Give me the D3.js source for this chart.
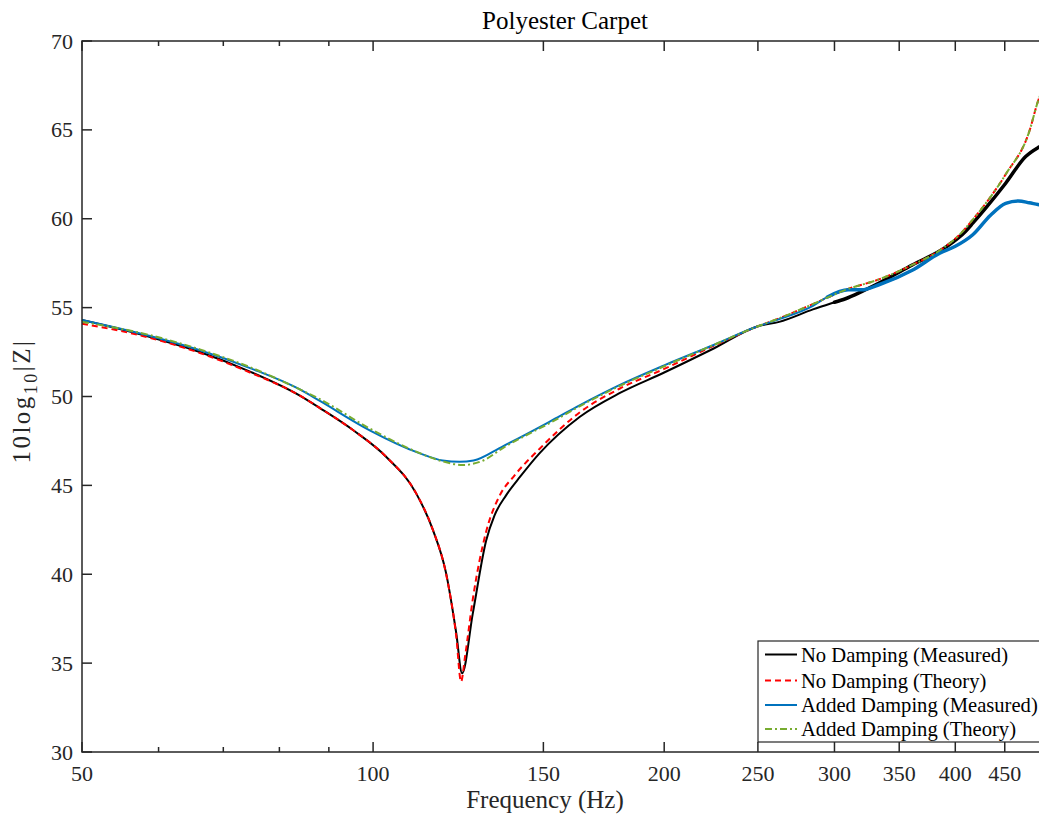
<!DOCTYPE html>
<html><head><meta charset="utf-8">
<script src="https://cdn.jsdelivr.net/npm/d3@7"></script>
<style>
html,body{margin:0;padding:0;background:#fff;overflow:hidden;}
text{font-family:"Liberation Serif","Times New Roman",serif;fill:#262626;}
</style></head>
<body>
<svg id="chart" width="1039" height="819"></svg>
<script>
// ---- data ----
const chartTitle = "Polyester Carpet";
const xLabel = "Frequency (Hz)";
const xTickValues = [50, 100, 150, 200, 250, 300, 350, 400, 450];
const xMinorTicks = [60, 70, 80, 90];
const yTickValues = [30, 35, 40, 45, 50, 55, 60, 65, 70];
const legendLabels = ["No Damping (Measured)", "No Damping (Theory)", "Added Damping (Measured)", "Added Damping (Theory)"];

const freqNoDampMeas = [50, 58.8, 66.2, 74.6, 84.0, 88.1, 95.4, 103.2, 110.8, 115.3, 119.0, 121.9, 123.6, 126.8, 130.9, 133.5, 137.3, 142, 148.6, 163.5, 180, 200, 225, 250, 263, 285, 300, 308, 320, 334, 361, 391, 410, 417, 430, 451, 473, 487, 500];
const valNoDampMeas  = [54.3, 53.35, 52.5, 51.4, 50.05, 49.35, 48.1, 46.6, 44.55, 42.5, 40.05, 36.68, 34.43, 37.8, 41.9, 43.3, 44.45, 45.5, 46.8, 48.85, 50.2, 51.35, 52.7, 53.95, 54.2, 54.9, 55.3, 55.5, 55.9, 56.4, 57.4, 58.4, 59.3, 59.75, 60.6, 62.0, 63.5, 64.0, 64.3];

const freqNoDampTheory = [50, 58.8, 66.2, 74.6, 84.0, 88.1, 95.4, 103.2, 110.8, 115.3, 119.0, 121.9, 123.3, 124.5, 126.8, 130.9, 135.1, 140, 148.6, 163.5, 180, 200, 225, 250, 263, 285, 308, 334, 361, 385, 404, 417, 451, 477, 487, 500];
const valNoDampTheory  = [54.1, 53.3, 52.45, 51.35, 50.05, 49.35, 48.1, 46.6, 44.55, 42.5, 40.0, 36.5, 33.96, 35.4, 38.6, 42.4, 44.4, 45.55, 47.05, 49.1, 50.45, 51.55, 52.85, 53.95, 54.4, 55.2, 56.0, 56.6, 57.4, 58.2, 59.1, 59.95, 62.5, 64.9, 66.6, 68.0];

const freqAddDampMeas = [50, 58.8, 66.2, 74.6, 84.0, 88.1, 99.2, 111.8, 118, 122.9, 127, 136.2, 153.4, 163.5, 180, 200, 225, 250, 263, 285, 295, 310, 320, 334, 361, 385, 400, 417, 435, 451, 465, 477, 487, 500];
const valAddDampMeas  = [54.3, 53.4, 52.6, 51.6, 50.4, 49.75, 48.1, 46.8, 46.4, 46.33, 46.4, 47.2, 48.68, 49.5, 50.65, 51.75, 52.9, 53.95, 54.35, 55.1, 55.6, 56.0, 56.0, 56.3, 57.1, 58.05, 58.45, 59.1, 60.2, 60.87, 61.0, 60.9, 60.8, 60.7];

const freqAddDampTheory = [50, 58.8, 66.2, 74.6, 84.0, 88.1, 99.2, 110.8, 118, 123.8, 130, 136.2, 153.4, 163.5, 180, 200, 225, 250, 263, 285, 308, 334, 361, 385, 404, 417, 451, 477, 487, 500];
const valAddDampTheory  = [54.2, 53.45, 52.65, 51.65, 50.4, 49.85, 48.2, 46.9, 46.35, 46.15, 46.4, 47.1, 48.6, 49.45, 50.6, 51.7, 52.9, 53.95, 54.4, 55.2, 56.0, 56.6, 57.4, 58.2, 59.1, 59.95, 62.5, 64.9, 66.6, 68.0];

// ---- layout ----
const svg = d3.select("#chart");
const L = 82, R = 1049, T = 41, B = 752;
const x = d3.scaleLog().domain([50, 500]).range([L, R]);
const y = d3.scaleLinear().domain([30, 70]).range([B, T]);
const axisColor = "#262626";

// series
const series = [
  {f: freqNoDampMeas, v: valNoDampMeas, color: "#000000", dash: null, w: 2, noisy: true},
  {f: freqNoDampTheory, v: valNoDampTheory, color: "#ff0000", dash: "6,4", w: 2, noisy: false},
  {f: freqAddDampMeas, v: valAddDampMeas, color: "#0072BD", dash: null, w: 2, noisy: true},
  {f: freqAddDampTheory, v: valAddDampTheory, color: "#77AC30", dash: "7,3,2,3", w: 2, noisy: false}
];

const line = d3.line().x(d => x(d[0])).y(d => y(d[1])).curve(d3.curveMonotoneX);

const plot = svg.append("g");
series.forEach(s => {
  const pts = s.f.map((f, i) => [f, s.v[i]]);
  if (s.noisy) {
    plot.append("path").attr("d", line(pts.filter(p => p[0] >= 295)))
      .attr("fill", "none").attr("stroke", s.color).attr("stroke-width", 3.5)
      .attr("stroke-linejoin", "round").attr("stroke-linecap", "round");
  }
  plot.append("path").attr("d", line(pts))
    .attr("fill", "none").attr("stroke", s.color).attr("stroke-width", s.w)
    .attr("stroke-dasharray", s.dash).attr("stroke-linejoin", "round");
});

// axes box
const ax = svg.append("g");
ax.append("rect").attr("x", L).attr("y", T).attr("width", R - L).attr("height", B - T)
  .attr("fill", "none").attr("stroke", axisColor).attr("stroke-width", 1.5);

// x ticks (inward, bottom & top)
xTickValues.forEach(v => {
  ax.append("line").attr("x1", x(v)).attr("x2", x(v)).attr("y1", B).attr("y2", B - 10).attr("stroke", axisColor).attr("stroke-width", 1.5);
  ax.append("line").attr("x1", x(v)).attr("x2", x(v)).attr("y1", T).attr("y2", T + 10).attr("stroke", axisColor).attr("stroke-width", 1.5);
  ax.append("text").attr("x", x(v)).attr("y", 781).attr("text-anchor", "middle")
    .attr("font-size", 22).text(v);
});
xMinorTicks.forEach(v => {
  ax.append("line").attr("x1", x(v)).attr("x2", x(v)).attr("y1", B).attr("y2", B - 5).attr("stroke", axisColor).attr("stroke-width", 1.5);
  ax.append("line").attr("x1", x(v)).attr("x2", x(v)).attr("y1", T).attr("y2", T + 5).attr("stroke", axisColor).attr("stroke-width", 1.5);
});
// y ticks
yTickValues.forEach(v => {
  ax.append("line").attr("x1", L).attr("x2", L + 10).attr("y1", y(v)).attr("y2", y(v)).attr("stroke", axisColor).attr("stroke-width", 1.5);
  ax.append("line").attr("x1", R).attr("x2", R - 10).attr("y1", y(v)).attr("y2", y(v)).attr("stroke", axisColor).attr("stroke-width", 1.5);
  ax.append("text").attr("x", 73).attr("y", y(v) + 7.5).attr("text-anchor", "end")
    .attr("font-size", 22).text(v);
});

// title & labels
svg.append("text").attr("x", 565).attr("y", 29).attr("text-anchor", "middle")
  .attr("font-size", 25).style("fill", "#000").text(chartTitle);
svg.append("text").attr("x", 545).attr("y", 808).attr("text-anchor", "middle")
  .attr("font-size", 25).text(xLabel);
const yl = svg.append("text").attr("transform", "translate(30,401) rotate(-90)")
  .attr("text-anchor", "middle").attr("font-size", 25).attr("letter-spacing", 2.5);
yl.append("tspan").text("10log");
yl.append("tspan").attr("font-size", 18).attr("dy", 7).text("10");
yl.append("tspan").attr("dy", -7).text("|Z|");

// legend
const lg = svg.append("g");
lg.append("rect").attr("x", 758).attr("y", 641).attr("width", 290).attr("height", 101)
  .attr("fill", "#fff").attr("stroke", axisColor).attr("stroke-width", 1.2);
const rowY = [654.5, 680.5, 705, 729];
series.forEach((s, i) => {
  lg.append("line").attr("x1", 765).attr("x2", 797).attr("y1", rowY[i]).attr("y2", rowY[i])
    .attr("stroke", s.color).attr("stroke-width", 2).attr("stroke-dasharray", s.dash);
  lg.append("text").attr("x", 801).attr("y", rowY[i] + 7).attr("font-size", 20.6)
    .style("fill", "#000").text(legendLabels[i]);
});
</script>
</body></html>
